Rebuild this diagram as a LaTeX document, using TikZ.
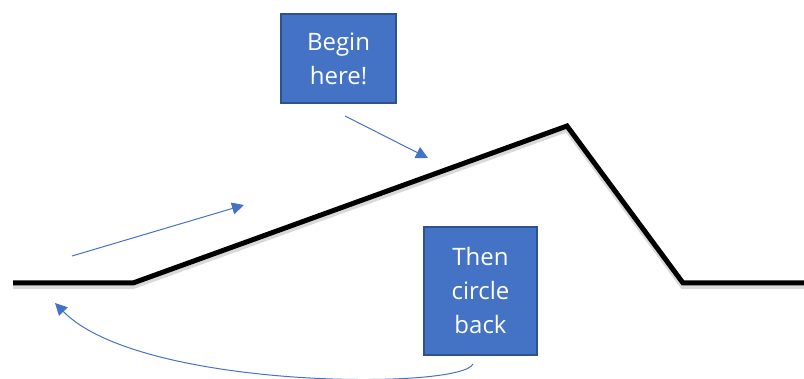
\documentclass[tikz,border=0pt]{standalone}
\usepackage{fontspec}
\setmainfont{Open Sans}
\usepackage{xcolor}
\usetikzlibrary{arrows.meta}

\definecolor{boxblue}{HTML}{4472C4}
\definecolor{boxrand}{HTML}{2F528F}

\begin{document}
\begin{tikzpicture}[x=1pt,y=-1pt,
kasten/.style={draw=boxrand, line width=1.5pt, fill=boxblue, text=white, align=center, inner sep=0pt, font=\fontsize{24}{34}\selectfont},
pfeil/.style={boxblue, line width=1pt, -{Triangle[length=12pt,width=12pt]}},
weg/.style={black, line width=5pt, line join=miter},
]
\useasboundingbox (0,0) rectangle (804,379);

% Schatten und Linie
\draw[weg, black!15, line width=6pt] (13,286) -- (133,286) -- (567,129) -- (683,286) -- (804,286);
\draw[weg] (13,283) -- (133,283) -- (567,126) -- (683,283) -- (804,283);

\node[kasten, minimum width=115pt, minimum height=89pt] (begin) at (338.5,58.5) {Begin\\here!};
\node[kasten, minimum width=113pt, minimum height=128pt] (back) at (480.5,291) {Then\\circle\\back};

\coordinate (b1) at (345,116);
\coordinate (b2) at (428,158);
\coordinate (a1) at (72,256);
\coordinate (a2) at (244,205);
\coordinate (c1) at (473,364);
\coordinate (c2) at (55,303);

\draw[pfeil] (b1) -- (b2);
\draw[pfeil] (a1) -- (a2);
\draw[pfeil] (c1) .. controls (462,390) and (140,390) .. (c2);

\end{tikzpicture}
\end{document}
